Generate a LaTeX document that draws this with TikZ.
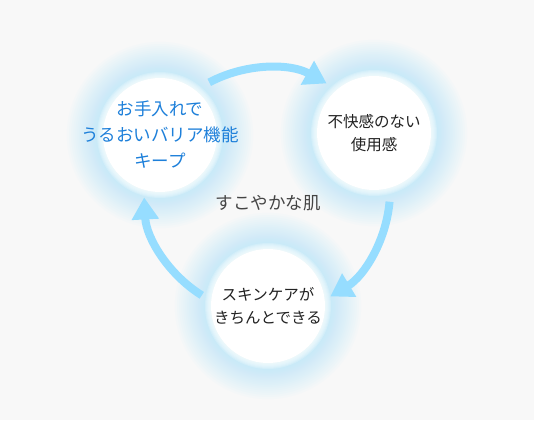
\documentclass[tikz,border=0pt]{standalone}
\usepackage{fontspec}
\setmainfont{Noto Sans CJK JP}
\usetikzlibrary{positioning, arrows.meta}
\definecolor{pagebg}{RGB}{248,248,248}
\definecolor{glowblue}{RGB}{188,234,252}
\definecolor{arrowblue}{RGB}{150,221,255}
\definecolor{textblue}{RGB}{30,128,218}
\definecolor{textdark}{RGB}{34,34,34}
\definecolor{textgray}{RGB}{68,68,68}

\tikzset{
  bubble/.style={fill=white},
  label/.style={align=center, inner sep=0pt, font=\fontsize{15.5}{23}\selectfont, text=textdark},
  cycle/.style={line width=8pt, draw=arrowblue, -{Triangle[length=22pt,width=26pt]}},
}

\begin{document}
\begin{tikzpicture}[x=1pt,y=1pt]
  % --- sizes ---
  \def\BubbleR{57}
  \def\LoopR{123}

  % background
  \fill[pagebg] (0,0) rectangle (534,420);
  \useasboundingbox (0,0) rectangle (534,420);

  \coordinate (hub) at (267,229);
  \coordinate (p1) at (160,285);
  \coordinate (p2) at (374,287);
  \coordinate (p3) at (268,114);

  % glow round the bubbles
  \foreach \p in {p1,p2,p3}{
    \foreach \i in {1,...,30}
      \fill[glowblue, opacity=0.06] (\p) circle ({\BubbleR+2+0.038*\i*\i});
  }
  % white discs with a soft rim
  \foreach \p in {p1,p2,p3}{
    \foreach \i in {1,...,6}
      \fill[white, opacity=0.2] (\p) circle ({\BubbleR+\i});
    \fill[bubble] (\p) circle (\BubbleR);
  }

  % bubble texts
  \node[label, text=textblue, font=\fontsize{17.5}{26}\selectfont] (care) at (p1)
    {お手入れで\\うるおいバリア機能\\キープ};
  \node[label] (comfort) at (p2) {不快感のない\\使用感};
  \node[label] (routine) at (p3) {スキンケアが\\きちんとできる};

  % centre label
  \node[font=\fontsize{17.5}{20}\selectfont, text=textgray] (skin) at (268,217) {すこやかな肌};

  % cycle arrows
  \coordinate (a1) at ([shift={(hub)}]118:\LoopR);
  \coordinate (a2) at ([shift={(hub)}]-5:\LoopR);
  \coordinate (a3) at ([shift={(hub)}]238:\LoopR);
  \draw[cycle] (a1) arc[start angle=118, end angle=61, radius=\LoopR];
  \draw[cycle] (a2) arc[start angle=-5, end angle=-59, radius=\LoopR];
  \draw[cycle] (a3) arc[start angle=238, end angle=183, radius=\LoopR];
\end{tikzpicture}
\end{document}
